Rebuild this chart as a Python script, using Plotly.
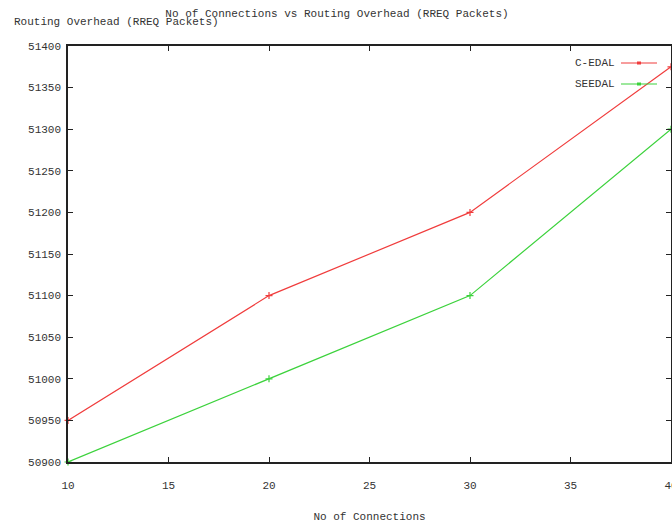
import plotly.graph_objects as go

connections = [10, 20, 30, 40]
c_edal = [50950, 51100, 51200, 51375]
seedal = [50900, 51000, 51100, 51300]
series_names = ["C-EDAL", "SEEDAL"]
series_colors = ["#f03c3c", "#3cd23c"]
x_ticks = [10, 15, 20, 25, 30, 35, 40]
y_ticks = [50900, 50950, 51000, 51050, 51100, 51150, 51200, 51250, 51300, 51350, 51400]

W, H = 672, 523
# plot area in window pixels: x 68..671, y 46..462
L, T, R = 68, 46, 1
B = H - 462
pw, ph = W - L - R, H - T - B

def px(x):
    return (x - L) / pw

def py(y):
    return (H - B - y) / ph

FONT = "Liberation Mono, DejaVu Sans Mono, monospace"
TXT = "#333333"

fig = go.Figure()
for name, vals, col in zip(series_names, [c_edal, seedal], series_colors):
    fig.add_trace(go.Scatter(
        x=connections, y=vals, name=name, mode="lines+markers",
        line=dict(color=col, width=1.2),
        marker=dict(symbol="cross-thin", size=5, line=dict(color=col, width=1.2)),
        showlegend=False, cliponaxis=False, hoverinfo="skip",
    ))

axis_common = dict(
    showgrid=False, zeroline=False, showline=True, linecolor="#222222", linewidth=1.5,
    mirror="ticks", ticks="inside", ticklen=5, tickwidth=1.2, tickcolor="#222222",
    tickfont=dict(family=FONT, size=11, color=TXT), automargin=False,
    ticklabeloverflow="allow",
)
fig.update_xaxes(range=[10, 40], tickvals=x_ticks, ticktext=[str(v) for v in x_ticks],
                 ticklabelstandoff=12,
                 title=dict(text="No of Connections", font=dict(family=FONT, size=11, color=TXT), standoff=24),
                 **axis_common)
fig.update_yaxes(range=[50900, 51400], tickvals=y_ticks, ticktext=[str(v) for v in y_ticks],
                 ticklabelstandoff=3, **axis_common)

annotations = [
    dict(text="Routing Overhead (RREQ Packets)", x=px(12), y=py(22), xref="paper", yref="paper",
         xanchor="left", yanchor="middle", showarrow=False, font=dict(family=FONT, size=11, color=TXT)),
]
shapes = []
for i, (name, col) in enumerate(zip(series_names, series_colors)):
    yy = 63 + i * 21
    annotations.append(dict(text=name, x=px(617), y=py(yy), xref="paper", yref="paper",
                            xanchor="right", yanchor="middle", showarrow=False,
                            font=dict(family=FONT, size=11, color=TXT)))
    shapes.append(dict(type="line", xref="paper", yref="paper", x0=px(621), x1=px(657),
                       y0=py(yy), y1=py(yy), line=dict(color=col, width=1.2)))
    shapes.append(dict(type="line", xref="paper", yref="paper", x0=px(637), x1=px(641),
                       y0=py(yy), y1=py(yy), line=dict(color=col, width=3)))

fig.update_layout(
    width=W, height=H, template="none",
    margin=dict(l=L, r=R, t=T, b=B),
    paper_bgcolor="white", plot_bgcolor="white",
    title=dict(text="No of Connections vs Routing Overhead (RREQ Packets)", x=337 / W, xanchor="center",
               y=1 - 13 / H, yanchor="middle", font=dict(family=FONT, size=11, color=TXT)),
    annotations=annotations, shapes=shapes,
)

fig.write_html(
    "out.html",
    config={"displayModeBar": False},
    post_script="document.documentElement.style.overflow='hidden';"
                "document.body.style.margin='0';document.body.style.overflow='hidden';",
)
